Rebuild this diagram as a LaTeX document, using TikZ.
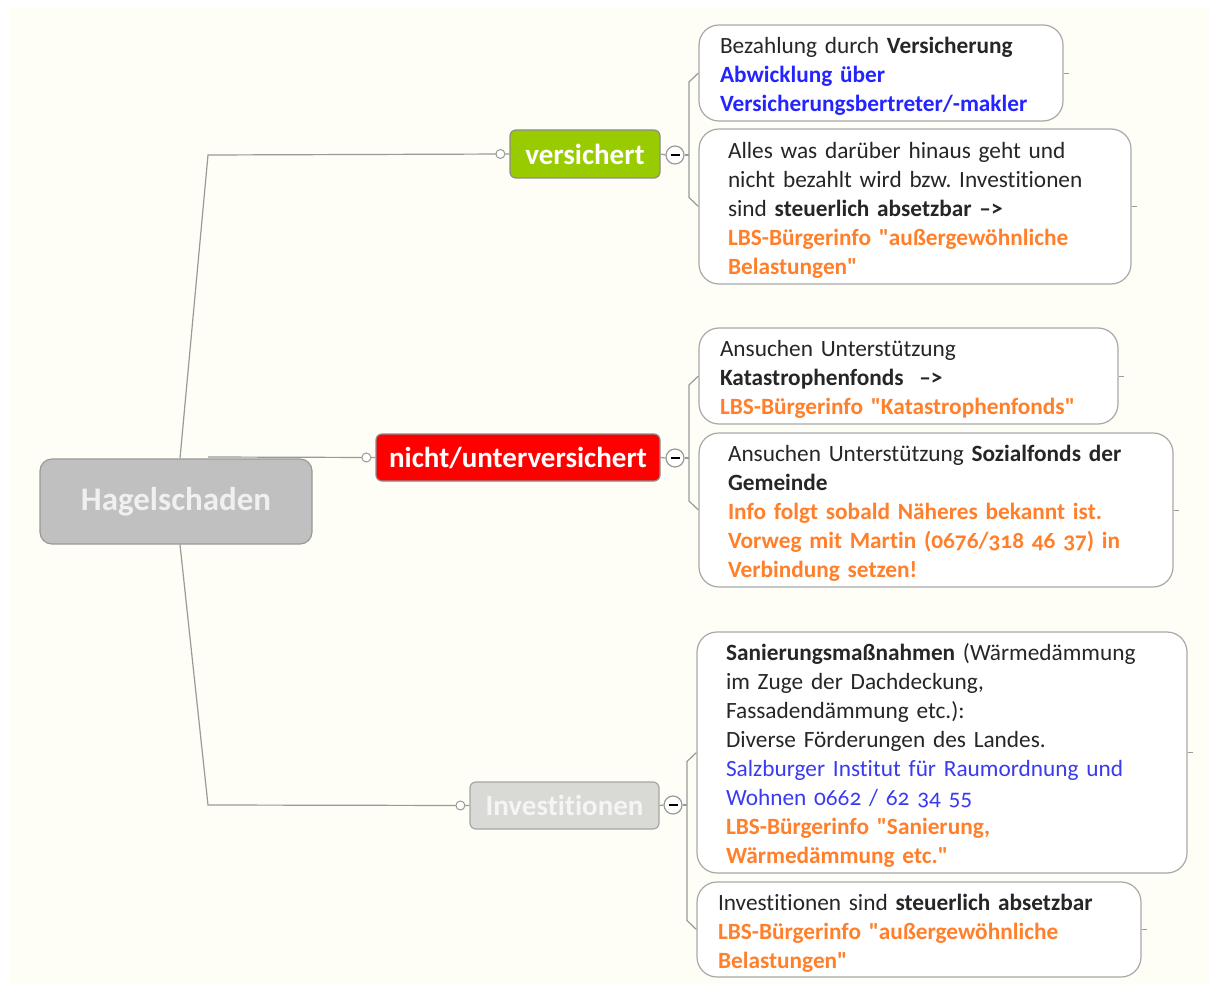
\documentclass[tikz,border=0pt]{standalone}
\usepackage{fontspec}
\setmainfont{Carlito}[Ligatures={TeXOff,CommonOff}, Numbers=OldStyle]
\frenchspacing
\definecolor{bgc}{HTML}{FEFEF6}
\definecolor{boxc}{HTML}{A8A8A8}
\definecolor{linec}{HTML}{9A9A9A}
\definecolor{txt}{HTML}{262626}
\definecolor{org}{HTML}{FF7F2A}
\definecolor{blb}{HTML}{2424FF}
\definecolor{blr}{HTML}{3A3AF0}
\definecolor{grn}{HTML}{99CC00}
\definecolor{rd}{HTML}{FF0000}
\definecolor{ivg}{HTML}{D9D9D6}
\definecolor{rtg}{HTML}{C0C0C0}
\newcommand\lyn[1]{\mbox{#1}}
\newcommand\og[1]{\textcolor{org}{\bfseries #1}}
\newcommand\bb[1]{\textcolor{blb}{\bfseries #1}}
\begin{document}
\begin{tikzpicture}[x=1pt,y=-1pt,
  note/.style={draw=boxc, line width=1.2pt, fill=white, rounded corners=20pt,
    inner sep=0pt, align=left, font=\fontsize{23.3}{29}\selectfont, text=txt,
    execute at begin node={\rule{0pt}{23pt}}},
  branch/.style={draw=black!45, line width=1.2pt, rounded corners=6pt, inner sep=0pt,
    font=\fontsize{29}{32}\selectfont\bfseries, text=white},
  conn/.style={draw=linec, line width=1.2pt},
  knob/.style={circle, draw=linec, fill=white, inner sep=0pt, minimum size=9pt, line width=1pt},
  minus/.style={circle, draw=linec, fill=white, inner sep=0pt, minimum size=18pt, line width=1.2pt},
  minusbar/.style={draw=black, line width=2pt}
]
\useasboundingbox (0,0) rectangle (1210,984);
\fill[bgc] (10,8) rectangle (1210,984);

% root and branches
\node[branch, fill=rtg, draw=black!40, rounded corners=12pt, minimum width=272pt, minimum height=85pt,
  font=\fontsize{33}{36}\selectfont\bfseries, text=white!94!black] (root) at (176,501.5) {Hagelschaden};
\node[branch, fill=grn, minimum width=150pt, minimum height=48pt] (vs) at (585,154) {versichert};
\node[branch, fill=rd, minimum width=284pt, minimum height=47pt] (nu) at (518,457.5) {nicht/unterversichert};
\node[branch, fill=ivg, draw=black!35, text=white!96!black, minimum width=189pt, minimum height=47pt] (iv) at (564.5,805.5) {Investitionen};

\coordinate (c1) at (208,155);
\coordinate (c2) at (208,457);
\coordinate (c3) at (208,805);
\draw[conn] ([xshift=4pt]root.north) -- (c1) -- (vs.west);
\draw[conn] (c2) -- (nu.west);
\draw[conn] ([xshift=4pt]root.south) -- (c3) -- (iv.west);
\node[knob] (k1) at ([xshift=-9pt]vs.west) {};
\node[knob] (k2) at ([xshift=-9pt]nu.west) {};
\node[knob] (k3) at ([xshift=-9pt]iv.west) {};

% notes
\node[note, minimum width=364pt, minimum height=96pt, text width=322pt] (n1) at (881,73)
 {\lyn{Bezahlung durch \textbf{Versicherung}}\\
  \lyn{\bb{Abwicklung über}}\\
  \lyn{\bb{Versicherungsbertreter/-makler}}};
\node[note, minimum width=432pt, minimum height=155pt, text width=374pt] (n2) at (915,206.5)
 {\lyn{Alles was darüber hinaus geht und}\\
  \lyn{nicht bezahlt wird bzw. Investitionen}\\
  \lyn{sind \textbf{steuerlich absetzbar –>}}\\
  \lyn{\og{LBS-Bürgerinfo "außergewöhnliche}}\\
  \lyn{\og{Belastungen"}}};
\node[note, minimum width=419pt, minimum height=96pt, text width=377pt] (n3) at (908.5,376)
 {\lyn{Ansuchen Unterstützung}\\
  \lyn{\textbf{Katastrophenfonds~ –>}}\\
  \lyn{\og{LBS-Bürgerinfo "Katastrophenfonds"}}};
\node[note, minimum width=474pt, minimum height=154pt, text width=416pt] (n4) at (936,510)
 {\lyn{Ansuchen Unterstützung \textbf{Sozialfonds der}}\\
  \lyn{\textbf{Gemeinde}}\\
  \lyn{\og{Info folgt sobald Näheres bekannt ist.}}\\
  \lyn{\og{Vorweg mit Martin (0676/318 46 37) in}}\\
  \lyn{\og{Verbindung setzen!}}};
\node[note, minimum width=490pt, minimum height=241pt, text width=432pt] (n5) at (942,752.5)
 {\lyn{\textbf{Sanierungsmaßnahmen} (Wärmedämmung}\\
  \lyn{im Zuge der Dachdeckung,}\\
  \lyn{Fassadendämmung etc.):}\\
  \lyn{Diverse Förderungen des Landes.}\\
  \lyn{\textcolor{blr}{Salzburger Institut für Raumordnung und}}\\
  \lyn{\textcolor{blr}{Wohnen 0662 / 62 34 55}}\\
  \lyn{\og{LBS-Bürgerinfo "Sanierung,}}\\
  \lyn{\og{Wärmedämmung etc."}}};
\node[note, minimum width=444pt, minimum height=95pt, text width=402pt] (n6) at (919,929.5)
 {\lyn{Investitionen sind \textbf{steuerlich absetzbar}}\\
  \lyn{\og{LBS-Bürgerinfo "außergewöhnliche}}\\
  \lyn{\og{Belastungen"}}};

% collapse buttons and brackets
\node[minus] (m1) at (675,155) {};
\node[minus] (m2) at (675,458) {};
\node[minus] (m3) at (673,805) {};
\foreach \m in {m1,m2,m3}
  \draw[minusbar] ([xshift=-4.5pt]\m.center) -- ([xshift=4.5pt]\m.center);

\coordinate (b1) at (689,155);
\coordinate (b2) at (689,458);
\coordinate (b3) at (687,805);
\draw[conn] (vs.east) -- (m1.west);
\draw[conn] (nu.east) -- (m2.west);
\draw[conn] (iv.east) -- (m3.west);
\draw[conn] (m1.east) -- (b1);
\draw[conn] (m2.east) -- (b2);
\draw[conn] (m3.east) -- (b3);
\draw[conn] (n1.west) -- ([yshift=-9pt]n1.west -| b1) -- ([yshift=9pt]n2.west -| b1) -- (n2.west);
\draw[conn] (n3.west) -- ([yshift=-9pt]n3.west -| b2) -- ([yshift=9pt]n4.west -| b2) -- (n4.west);
\draw[conn] (n5.west) -- ([yshift=-9pt]n5.west -| b3) -- ([yshift=9pt]n6.west -| b3) -- (n6.west);

% right ticks
\foreach \n in {n1,n2,n3,n4,n5,n6}
  \draw[conn, line width=0.8pt] (\n.east) -- ++(5,0);
\end{tikzpicture}
\end{document}
